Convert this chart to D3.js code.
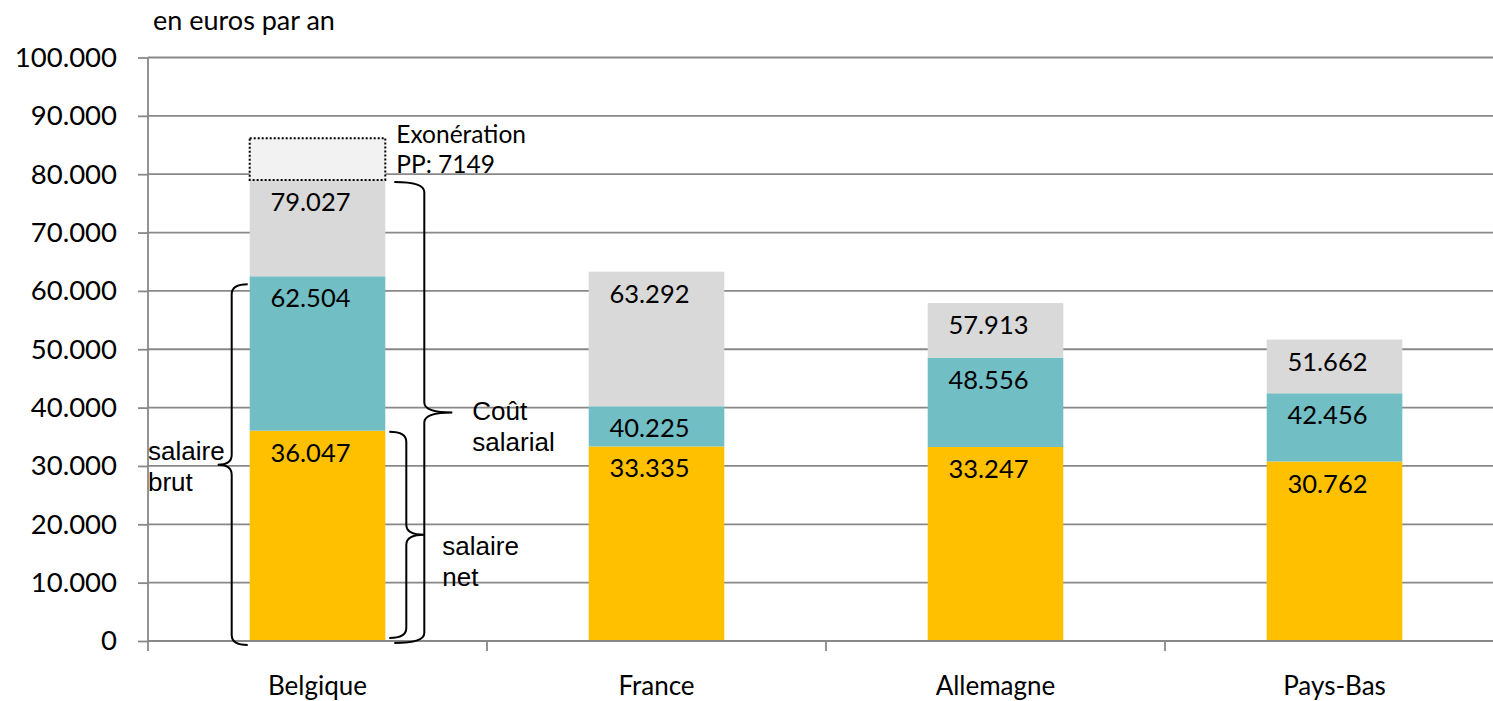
<!DOCTYPE html>
<html>
<head>
<meta charset="utf-8">
<script src="https://cdn.jsdelivr.net/npm/d3@7"></script>
<style>
  body { margin: 0; background: #fff; }
  svg { display: block; }
</style>
</head>
<body>
<svg id="chart" width="1493" height="701"></svg>
<script>
// chart data (euros par an)
var categories = ["Belgique", "France", "Allemagne", "Pays-Bas"];
var salaireNet = [36047, 33335, 33247, 30762];
var salaireBrut = [62504, 40225, 48556, 42456];
var coutSalarial = [79027, 63292, 57913, 51662];
var exoneration = [7149, 0, 0, 0];
var yTicks = [0, 10000, 20000, 30000, 40000, 50000, 60000, 70000, 80000, 90000, 100000];

var colors = ["#FFC000", "#72BEC5", "#D9D9D9"];

var svg = d3.select("#chart"),
    width = +svg.attr("width"),
    height = +svg.attr("height");

var plotLeft = 148, plotBottom = 641, plotTop = 57.5;

var fr = d3.formatLocale({decimal: ",", thousands: ".", grouping: [3], currency: ["", " €"]});
var fmt = fr.format(",");

var x = d3.scaleBand()
    .domain(categories)
    .range([plotLeft, plotLeft + 4 * 339])
    .paddingInner(0.6)
    .paddingOuter(0.3);

var y = d3.scaleLinear()
    .domain([0, 100000])
    .range([plotBottom, plotTop]);

// gridlines
svg.append("g")
  .selectAll("line")
  .data(yTicks.slice(1))
  .enter().append("line")
    .attr("x1", plotLeft)
    .attr("x2", width)
    .attr("y1", function(d) { return y(d); })
    .attr("y2", function(d) { return y(d); })
    .attr("stroke", "#888888")
    .attr("stroke-width", 1.8);

// build segments from the cumulative values
var segments = [];
categories.forEach(function(c, i) {
  segments.push({cat: c, y0: 0, y1: salaireNet[i], color: colors[0], label: salaireNet[i]});
  segments.push({cat: c, y0: salaireNet[i], y1: salaireBrut[i], color: colors[1], label: salaireBrut[i]});
  segments.push({cat: c, y0: salaireBrut[i], y1: coutSalarial[i], color: colors[2], label: coutSalarial[i]});
});

svg.append("g")
  .selectAll("rect")
  .data(segments)
  .enter().append("rect")
    .attr("x", function(d) { return x(d.cat); })
    .attr("width", x.bandwidth())
    .attr("y", function(d) { return y(d.y1); })
    .attr("height", function(d) { return y(d.y0) - y(d.y1); })
    .attr("fill", function(d) { return d.color; });

// exoneration box (dotted)
var exo = categories.map(function(c, i) { return {cat: c, y0: coutSalarial[i], y1: coutSalarial[i] + exoneration[i], v: exoneration[i]}; })
  .filter(function(d) { return d.v > 0; });

svg.append("g")
  .selectAll("rect")
  .data(exo)
  .enter().append("rect")
    .attr("x", function(d) { return x(d.cat); })
    .attr("width", x.bandwidth())
    .attr("y", function(d) { return y(d.y1); })
    .attr("height", function(d) { return y(d.y0) - y(d.y1); })
    .attr("fill", "#F2F2F2")
    .attr("stroke", "#000")
    .attr("stroke-width", 2)
    .attr("stroke-dasharray", "2,2");

svg.append("g")
  .selectAll("text")
  .data(exo)
  .enter().append("text")
    .attr("y", function(d) { return y(d.y1) + 5; })
    .style("font", "24.5px Lato")
    .attr("fill", "#000")
    .each(function(d) {
      var tx = x(d.cat) + x.bandwidth() + 11;
      d3.select(this).append("tspan").attr("x", tx).text("Exonération");
      d3.select(this).append("tspan").attr("x", tx).attr("dy", 30).text("PP: " + d.v);
    });

// value labels
svg.append("g")
  .selectAll("text")
  .data(segments)
  .enter().append("text")
    .attr("x", function(d) { return x(d.cat) + x.bandwidth() / 2 - 7; })
    .attr("y", function(d) { return y(d.y1) + 31; })
    .attr("text-anchor", "middle")
    .style("font", "25.5px Lato")
    .attr("fill", "#000")
    .text(function(d) { return fmt(d.label); });

// y axis
var yAxis = svg.append("g")
    .attr("transform", "translate(" + plotLeft + ",0)")
    .call(d3.axisLeft(y).tickValues(yTicks).tickSize(10).tickPadding(21).tickFormat(fmt));
yAxis.select(".domain").remove();
yAxis.selectAll(".tick line").attr("stroke", "#888888").attr("stroke-width", 1.8);
yAxis.selectAll(".tick text").style("font", "27.5px Lato").attr("fill", "#000");

svg.append("line")
    .attr("x1", plotLeft).attr("x2", plotLeft)
    .attr("y1", plotTop).attr("y2", plotBottom)
    .attr("stroke", "#888888").attr("stroke-width", 1.8);

// x axis
svg.append("line")
    .attr("x1", plotLeft).attr("x2", width)
    .attr("y1", plotBottom).attr("y2", plotBottom)
    .attr("stroke", "#888888").attr("stroke-width", 1.8);

var step = x.step();
svg.append("g")
  .selectAll("line")
  .data(categories)
  .enter().append("line")
    .attr("x1", function(d) { return x(d) - step * 0.3; })
    .attr("x2", function(d) { return x(d) - step * 0.3; })
    .attr("y1", plotBottom)
    .attr("y2", plotBottom + 10)
    .attr("stroke", "#888888").attr("stroke-width", 1.8);

var xAxis = svg.append("g")
    .attr("transform", "translate(0," + plotBottom + ")")
    .call(d3.axisBottom(x).tickSize(0).tickPadding(36));
xAxis.select(".domain").remove();
xAxis.selectAll(".tick text").style("font", "26px Lato").attr("fill", "#000");

// unit title
svg.append("text")
    .attr("x", 153)
    .attr("y", 30)
    .style("font", "27px Lato")
    .attr("fill", "#000")
    .text("en euros par an");

// braces
function brace(xh, xs, xt, y0, y1) {
  var ym = (y0 + y1) / 2, r = 10;
  return "M" + xh + "," + y0 +
    " Q" + xs + "," + y0 + " " + xs + "," + (y0 + r) +
    " L" + xs + "," + (ym - r) +
    " Q" + xs + "," + ym + " " + xt + "," + ym +
    " Q" + xs + "," + ym + " " + xs + "," + (ym + r) +
    " L" + xs + "," + (y1 - r) +
    " Q" + xs + "," + y1 + " " + xh + "," + y1;
}

var bx0 = x("Belgique"), bx1 = bx0 + x.bandwidth();
var braces = [
  {d: brace(bx0 - 2, bx0 - 18, bx0 - 32, y(salaireBrut[0]) + 8, plotBottom + 4), tx: plotLeft, ty: y(salaireBrut[0] / 2) + 1, lines: ["salaire", "brut"]},
  {d: brace(bx1 + 4, bx1 + 21, bx1 + 39, y(salaireNet[0]) + 1, plotBottom - 3), tx: bx1 + 57, ty: y(salaireNet[0] / 2) + 19, lines: ["salaire", "net"]},
  {d: brace(bx1 + 9, bx1 + 39, bx1 + 67, y(coutSalarial[0]) + 2, plotBottom + 2), tx: bx1 + 87, ty: y(coutSalarial[0] / 2) + 10, lines: ["Coût", "salarial"]}
];

svg.append("g")
  .selectAll("path")
  .data(braces)
  .enter().append("path")
    .attr("d", function(d) { return d.d; })
    .attr("fill", "none")
    .attr("stroke", "#000")
    .attr("stroke-width", 2);

svg.append("g")
  .selectAll("text")
  .data(braces)
  .enter().append("text")
    .attr("y", function(d) { return d.ty; })
    .style("font", "26px 'Liberation Sans', Arial, sans-serif")
    .attr("fill", "#000")
    .each(function(d) {
      var t = d3.select(this);
      d.lines.forEach(function(l, i) {
        t.append("tspan").attr("x", d.tx).attr("dy", i === 0 ? 0 : 31).text(l);
      });
    });
</script>
</body>
</html>
